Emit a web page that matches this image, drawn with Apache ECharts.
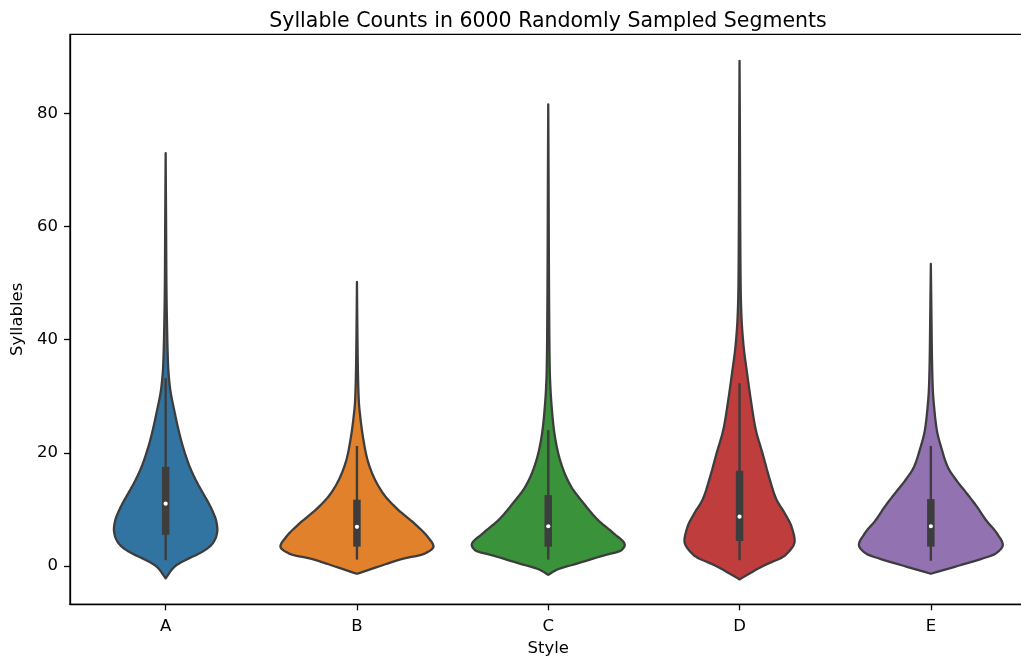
<!DOCTYPE html>
<html>
<head>
<meta charset="utf-8">
<script src="https://cdn.jsdelivr.net/npm/echarts@6/dist/echarts.min.js"></script>
<style>
html,body{margin:0;padding:0;background:#fff;}
#chart{width:1021px;height:657px;}
</style>
</head>
<body>
<div id="chart"></div>
<script>
// ---- data ----
const categories = ['A', 'B', 'C', 'D', 'E'];
const yTicks = [0, 20, 40, 60, 80];

// violin profiles: [value, relative density] (1 = widest violin)
const violinA = [[-2.2,0],[-0.1,0.12],[1.1,0.27],[2.2,0.44],[3.4,0.575],[4.4,0.635],[5.4,0.665],[6.4,0.676],[8,0.66],[9.3,0.625],[11,0.565],[12.8,0.49],[15,0.40],[17.5,0.315],[20,0.25],[22.3,0.2],[27,0.12],[31.7,0.055],[35.2,0.033],[41.1,0.02],[50,0.01],[60,0.006],[73,0]];
const violinB = [[-1.4,0],[-0.1,0.29],[1.1,0.56],[2.2,0.89],[3.4,1.0],[5.2,0.92],[7.5,0.75],[9.9,0.54],[12.3,0.37],[14.6,0.26],[17,0.18],[19.3,0.127],[21.7,0.092],[24,0.065],[26.4,0.043],[28.8,0.026],[32.3,0.016],[37.6,0.009],[44,0.004],[50.2,0]];
const violinC = [[-1.6,0],[-0.7,0.11],[0.5,0.4],[1.7,0.69],[2.8,0.96],[3.7,1.0],[5.8,0.85],[8.1,0.65],[11.1,0.46],[14,0.3],[17,0.196],[20.5,0.12],[24,0.075],[27.6,0.048],[31.1,0.03],[34.6,0.02],[42.9,0.013],[54.7,0.008],[66.4,0.005],[81.6,0]];
const violinD = [[-2.4,0],[-1.2,0.15],[0,0.31],[1.9,0.6],[4.4,0.72],[6.9,0.68],[9.3,0.59],[11.8,0.48],[15.5,0.39],[19.9,0.3],[24.2,0.21],[29.2,0.149],[34.1,0.098],[39.1,0.051],[44.1,0.025],[49,0.015],[60.2,0.009],[75,0.005],[89.3,0]];
const violinE = [[-1.4,0],[-0.1,0.33],[1.1,0.63],[2.2,0.85],[3.7,0.94],[5.8,0.86],[8.1,0.72],[10.5,0.6],[12.8,0.47],[15.2,0.33],[17.5,0.22],[20.5,0.145],[24,0.078],[27.6,0.046],[31.1,0.026],[35.8,0.016],[44.1,0.008],[53.4,0]];

// inner box statistics
const whiskerLow  = [1.0, 1.1, 1.1, 1.0, 0.9];
const q1          = [5.5, 3.4, 3.4, 4.4, 3.4];
const medians     = [11.0, 6.9, 7.0, 8.7, 7.0];
const q3          = [17.5, 11.7, 12.5, 16.8, 11.8];
const whiskerHigh = [33.2, 21.2, 24.0, 32.3, 21.2];

// ---- styles ----
const palette = ['#3274a1', '#e1812c', '#3a923a', '#c03d3e', '#9372b2'];
const gray = '#3d3d3d';
const FONT = 'DejaVu Sans';

const profiles = [violinA, violinB, violinC, violinD, violinE];

// monotone cubic (Fritsch-Carlson) evaluation of a profile, for smooth outlines
function monotoneSampler(prof) {
  const n = prof.length;
  const xs = prof.map(p => p[0]), ys = prof.map(p => p[1]);
  const d = [], m = new Array(n);
  for (let k = 0; k < n - 1; k++) d.push((ys[k + 1] - ys[k]) / (xs[k + 1] - xs[k]));
  m[0] = d[0]; m[n - 1] = d[n - 2];
  for (let k = 1; k < n - 1; k++) {
    if (d[k - 1] * d[k] <= 0) m[k] = 0;
    else {
      const h0 = xs[k] - xs[k - 1], h1 = xs[k + 1] - xs[k];
      const w1 = 2 * h1 + h0, w2 = h1 + 2 * h0;
      m[k] = (w1 + w2) / (w1 / d[k - 1] + w2 / d[k]);
    }
  }
  return function (x) {
    let k = 0;
    while (k < n - 2 && x > xs[k + 1]) k++;
    const h = xs[k + 1] - xs[k];
    const t = Math.min(1, Math.max(0, (x - xs[k]) / h));
    const t2 = t * t, t3 = t2 * t;
    return (2 * t3 - 3 * t2 + 1) * ys[k] + (t3 - 2 * t2 + t) * h * m[k] +
           (-2 * t3 + 3 * t2) * ys[k + 1] + (t3 - t2) * h * m[k + 1];
  };
}
const samplers = profiles.map(monotoneSampler);

function renderViolin(params, api) {
  const i = api.value(0);
  const prof = profiles[i];
  const f = samplers[i];
  const band = api.size([1, 0])[0];
  const maxHalf = band * 0.4;
  const lo = prof[0][0], hi = prof[prof.length - 1][0];
  const steps = 400;
  const right = [], left = [];
  for (let s = 0; s <= steps; s++) {
    const v = lo + (hi - lo) * s / steps;
    const w = Math.max(0, f(v)) * maxHalf;
    const c = api.coord([i, v]);
    right.push([c[0] + w, c[1]]);
    if (s > 0 && s < steps) left.unshift([c[0] - w, c[1]]);
  }
  const pts = right.concat(left);
  const cx = api.coord([i, 0])[0];
  const wl = api.coord([i, whiskerLow[i]])[1];
  const wh = api.coord([i, whiskerHigh[i]])[1];
  const b1 = api.coord([i, q1[i]])[1];
  const b3 = api.coord([i, q3[i]])[1];
  const md = api.coord([i, medians[i]])[1];
  const boxW = 7.5;
  return {
    type: 'group',
    children: [
      { type: 'polygon', shape: { points: pts },
        style: { fill: palette[i], stroke: gray, lineWidth: 2.3, lineJoin: 'round' } },
      { type: 'line', shape: { x1: cx, y1: wl, x2: cx, y2: wh },
        style: { stroke: gray, lineWidth: 2.4 } },
      { type: 'rect', shape: { x: cx - boxW / 2, y: b3, width: boxW, height: b1 - b3 },
        style: { fill: gray } },
      { type: 'circle', shape: { cx: cx, cy: md, r: 2.1 },
        style: { fill: '#ffffff' } }
    ]
  };
}

const chart = echarts.init(document.getElementById('chart'), null, { renderer: 'canvas' });
chart.setOption({
  animation: false,
  backgroundColor: '#ffffff',
  title: {
    text: 'Syllable Counts in 6000 Randomly Sampled Segments',
    left: 543, top: 6, textAlign: 'center',
    textStyle: { fontFamily: FONT, fontSize: 20.5, fontWeight: 'normal', color: '#000' }
  },
  grid: {
    left: 70, top: 34.3, width: 956.5, height: 570,
    outerBoundsMode: 'none', containLabel: false,
    show: true, borderColor: '#000', borderWidth: 1.3, backgroundColor: 'transparent'
  },
  xAxis: {
    type: 'category', data: categories, boundaryGap: true,
    name: 'Style', nameLocation: 'middle', nameGap: 36,
    nameTextStyle: { fontFamily: FONT, fontSize: 16.5, color: '#000' },
    axisLine: { show: true, onZero: false, lineStyle: { color: '#000', width: 1.3 } },
    axisTick: { show: true, alignWithLabel: true, length: 6, lineStyle: { color: '#000', width: 1.3 } },
    axisLabel: { margin: 14, fontFamily: FONT, fontSize: 16.5, color: '#000' },
    splitLine: { show: false }
  },
  yAxis: {
    type: 'value', min: -6.8, max: 94,
    name: 'Syllables', nameLocation: 'middle', nameGap: 37, nameRotate: 90,
    nameTextStyle: { fontFamily: FONT, fontSize: 16.5, color: '#000' },
    axisLine: { show: true, onZero: false, lineStyle: { color: '#000', width: 1.3 } },
    axisTick: { show: true, length: 6, customValues: yTicks, lineStyle: { color: '#000', width: 1.3 } },
    axisLabel: { margin: 12, fontFamily: FONT, fontSize: 16.5, color: '#000', customValues: yTicks },
    splitLine: { show: false }
  },
  series: [{
    type: 'custom',
    renderItem: renderViolin,
    data: categories.map(function (c, i) { return [i]; }),
    encode: { x: 0 }
  }]
});
</script>
</body>
</html>
